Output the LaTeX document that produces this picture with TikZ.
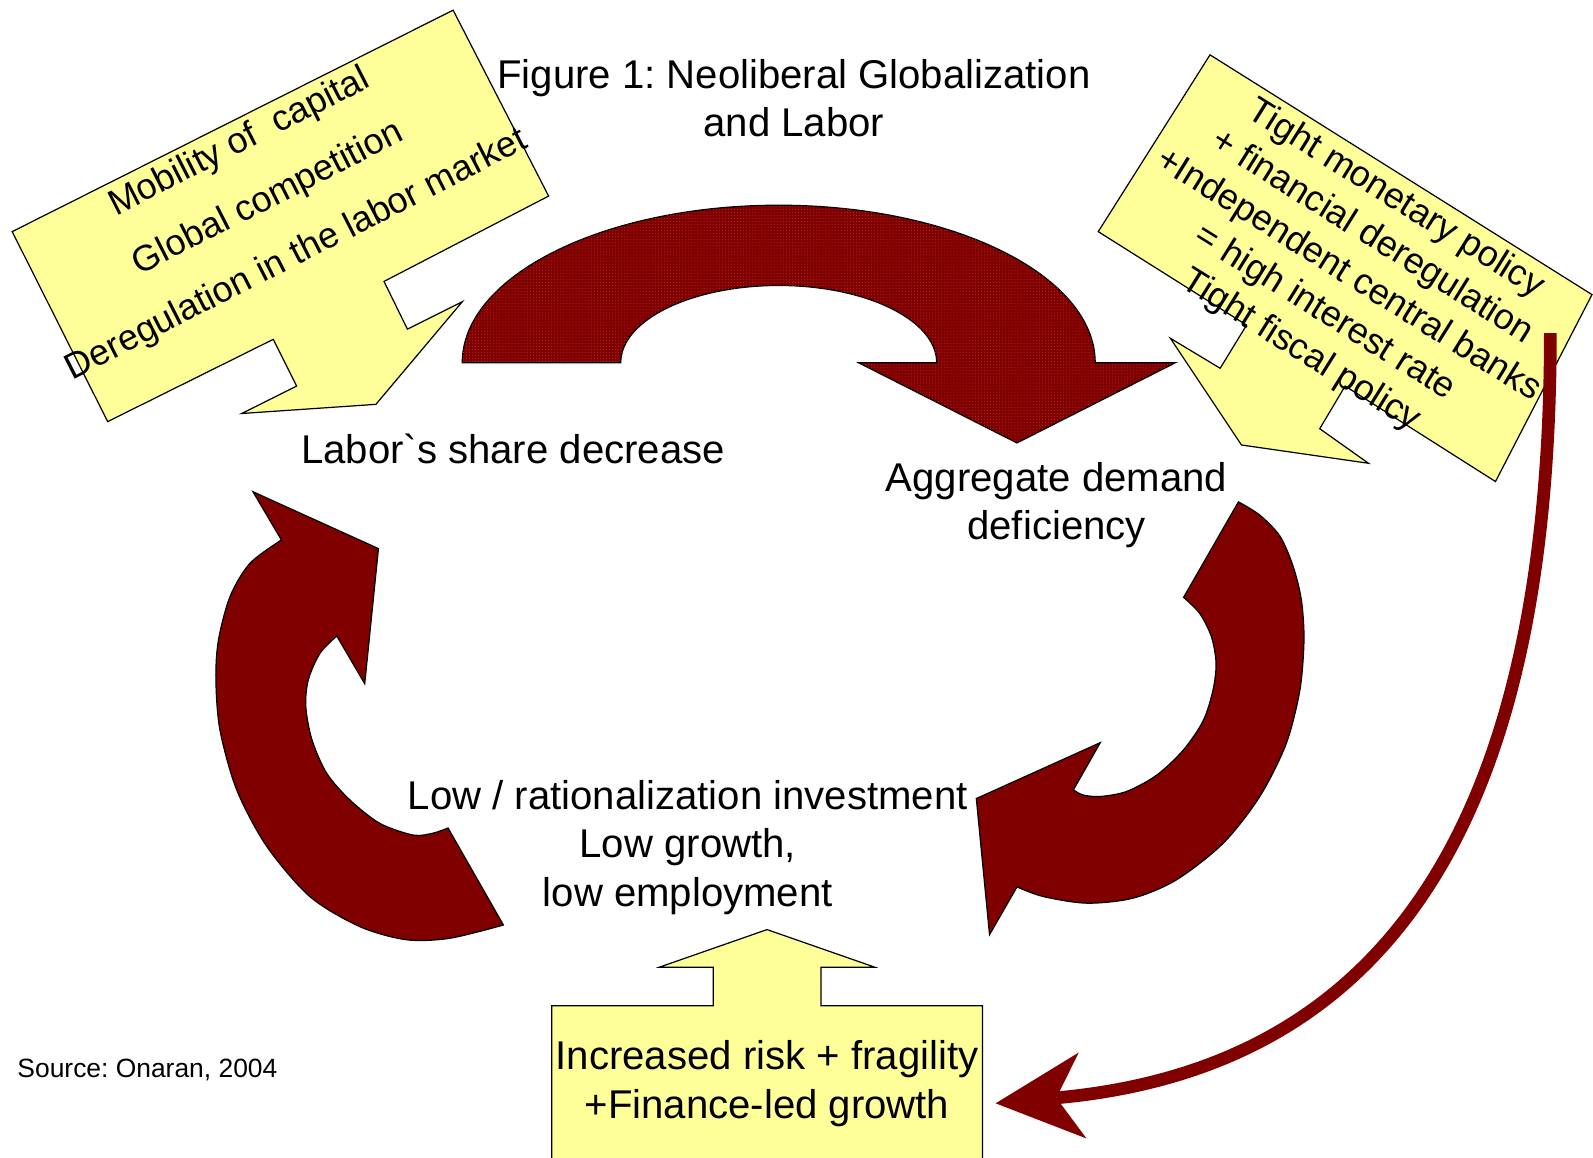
\documentclass[tikz,border=0pt]{standalone}
\usepackage{fontspec}
\setmainfont{Liberation Sans}
\usetikzlibrary{arrows.meta,patterns}
\definecolor{loopred}{RGB}{128,0,0}
\definecolor{dotred}{RGB}{172,48,48}
\definecolor{noteyellow}{RGB}{255,255,153}
\tikzset{
  loopfill/.style={fill=loopred, draw=black, line width=1.2pt, line join=miter},
  loopdots/.style={loopfill, postaction={pattern=dots, pattern color=dotred}},
  callout/.style={fill=noteyellow, draw=black, line width=1.2pt, line join=miter},
  lbl/.style={font=\fontsize{39.5}{47.5}\selectfont, align=center, inner sep=0pt},
  tilted/.style={font=\fontsize{35.5}{44}\selectfont, align=center, inner sep=0pt},
  feedarrow/.style={draw=loopred, line width=12.5pt,
    -{Stealth[length=86pt, width=85pt, inset=26pt, line width=0pt]}},
}

\begin{document}
\frenchspacing
\begin{tikzpicture}[x=1pt, y=-1pt]
\useasboundingbox (0,0) rectangle (1568,1139);
% -- top arrow: share -> demand --
\path[loopdots] (455,357) arc[start angle=180, end angle=360, x radius=311.5, y radius=155]
  -- (1157,357) -- (1001,436) -- (845,357) -- (922,357)
  arc[start angle=0, end angle=-180, x radius=155.5, y radius=76] -- cycle;
% -- right arrow: demand -> investment --
\path[loopfill] (1219,494) -- plot[smooth] coordinates {(1219,494) (1240,507) (1260,528) (1273,558)
  (1281,591) (1283.5,630) (1279.5,679) (1266,732) (1240,784) (1204,830) (1158,866)
  (1115.5,884) (1070,889) (1027,882.5) (1001,873)}
  -- (974,920) -- (961,786) -- (1083,731) -- (1056.5,777.5)
  -- plot[smooth] coordinates {(1056.5,777.5) (1066,782.5) (1083,784) (1109,779) (1138.5,763)
  (1165,738) (1184.5,709) (1194,679) (1197,653) (1192.5,627) (1181,604) (1165,588)} -- cycle;
% -- left arrow: investment -> share --
\path[loopfill] (495.5,910.5) -- plot[smooth] coordinates {(495.5,910.5) (443,923.5) (400,925)
  (354,912) (305,882.5) (262.5,833) (233,777.5) (216.5,718.5) (212.5,669) (215,630)
  (226.5,587) (246,554.5) (277,531.5)}
  -- (249,484) -- (372.5,540) -- (359,673) -- (331.5,626)
  -- plot[smooth] coordinates {(331.5,626) (315,643) (303.5,669) (301,695.5) (307,728)
  (321.5,761) (344.5,787.5) (374,810.5) (407,822) (426.5,820) (441,815)} -- cycle;
% -- callouts --
\path[callout] (12,228) -- (446,10) -- (540,193) -- (378,277) -- (401,324) -- (455,297)
  -- (370,398) -- (238,407) -- (292,380) -- (269,334) -- (106,415) -- cycle;
\path[callout] (1191,54) -- (1567,290) -- (1472,474) -- (1324,380) -- (1299,422) -- (1347,456)
  -- (1222,438) -- (1152,333) -- (1201,362.5) -- (1227,320) -- (1081,228) -- cycle;
\path[callout] (543,1145) -- (543,990) -- (702,990) -- (702,952) -- (649,952) -- (755,915)
  -- (861,952) -- (808,952) -- (808,990) -- (967,990) -- (967,1145) -- cycle;
% -- callout texts --
\node[tilted, font=\fontsize{35.5}{62}\selectfont, rotate=27] (globtext) at (264,196)
  {Mobility of\ \ capital\\Global competition\\Deregulation in the labor market};
\node[tilted, rotate=-32] (policytext) at (1327,271)
  {Tight monetary policy\\+ financial deregulation\\+Independent central banks\\= high interest rate\\Tight fiscal policy};
% -- labels (base = last line) --
\node[lbl, anchor=base] (title) at (781.5,134.5) {Figure 1: Neoliberal Globalization\\and Labor};
\node[lbl, anchor=base] (share) at (505,456) {Labor\textasciigrave s share decrease};
\node[lbl, anchor=base] (demand) at (1040,531.5) {Aggregate demand\\deficiency};
\node[lbl, anchor=base] (invest) at (677,892) {Low / rationalization investment\\Low growth,\\low employment};
\node[lbl, anchor=base] (risk) at (755,1100.5) {Increased risk + fragility\\+Finance-led growth};
\node[font=\fontsize{26}{31}\selectfont, anchor=base west, inner sep=0pt] (source) at (17,1061)
  {Source: Onaran, 2004};
% -- policy feeds into risk --
\coordinate (policyout) at (1526,328);
\coordinate (riskin) at (980,1086);
\draw[feedarrow] (policyout) .. controls (1526,788) and (1380,1050) .. (riskin);
\end{tikzpicture}
\end{document}
